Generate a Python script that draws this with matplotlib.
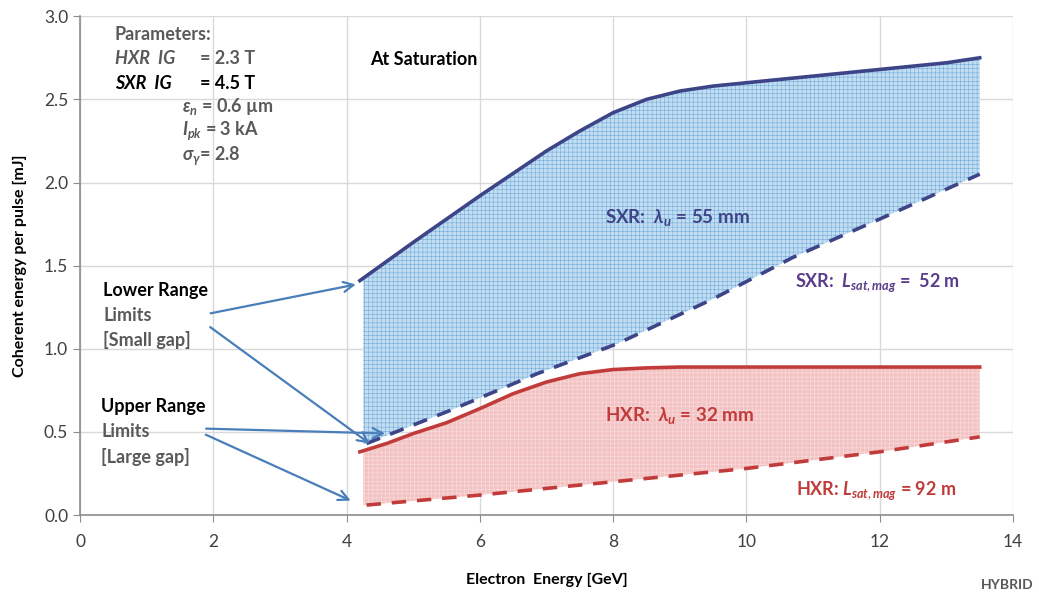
import numpy as np
import matplotlib
matplotlib.use("Agg")
import matplotlib.pyplot as plt

plt.rcParams['font.family'] = ['Lato', 'DejaVu Sans']
plt.rcParams['mathtext.fontset'] = 'custom'
plt.rcParams['mathtext.rm'] = 'Lato'
plt.rcParams['mathtext.it'] = 'Lato:italic:bold'
plt.rcParams['mathtext.bf'] = 'Lato:bold'
plt.rcParams['hatch.linewidth'] = 0.3

# SXR (lambda_u = 55 mm) saturation energy, upper and lower range limits
sxr_hi_x = [4.2, 5.0, 6.0, 7.0, 7.5, 8.0, 8.5, 9.0, 9.5, 10.0, 11.0, 12.0, 13.0, 13.5]
sxr_hi_y = [1.41, 1.64, 1.92, 2.19, 2.31, 2.42, 2.50, 2.55, 2.58, 2.60, 2.64, 2.68, 2.72, 2.75]
sxr_lo_x = [4.3, 5.56, 6.86, 8.06, 9.5, 10.7, 12.0, 13.5]
sxr_lo_y = [0.43, 0.63, 0.85, 1.03, 1.30, 1.55, 1.78, 2.05]

# HXR (lambda_u = 32 mm)
hxr_hi_x = [4.2, 4.6, 5.0, 5.5, 6.0, 6.5, 7.0, 7.5, 8.0, 8.5, 9.0, 10.0, 12.0, 13.5]
hxr_hi_y = [0.38, 0.43, 0.49, 0.555, 0.64, 0.73, 0.80, 0.85, 0.875, 0.885, 0.89, 0.89, 0.89, 0.89]
hxr_lo_x = [4.3, 6.0, 8.0, 10.0, 12.0, 13.5]
hxr_lo_y = [0.06, 0.12, 0.20, 0.28, 0.38, 0.47]

SXR_COL = '#3d4487'
HXR_COL = '#c23b3b'
ARROW_COL = '#4a7ebb'
GRAY = '#595959'

fig = plt.figure(figsize=(10.39, 6.02), dpi=100)
ax = fig.add_axes([0.077, 0.1445, 0.898, 0.8285])

# shaded bands (fill between upper and lower limits on a common grid)
xs = np.linspace(4.25, 13.5, 300)
s_top = np.interp(xs, sxr_hi_x, sxr_hi_y)
s_bot = np.interp(xs, sxr_lo_x, sxr_lo_y)
h_top = np.interp(xs, hxr_hi_x, hxr_hi_y)
h_bot = np.interp(xs, hxr_lo_x, hxr_lo_y)

ax.fill_between(xs, s_bot, s_top, facecolor='#c2ddf2', linewidth=0, zorder=1)
ax.fill_between(xs, s_bot, s_top, facecolor='none', edgecolor='#5b9fd3',
                hatch='++++', linewidth=0, zorder=1.1)
ax.fill_between(xs, h_bot, h_top, facecolor='#f3c2c2', linewidth=0, zorder=1.2)
ax.fill_between(xs, h_bot, h_top, facecolor='none', edgecolor='#fbe8e8',
                hatch='++++', linewidth=0, zorder=1.3)

ax.plot(sxr_hi_x, sxr_hi_y, color=SXR_COL, lw=2.6, zorder=3)
ax.plot(sxr_lo_x, sxr_lo_y, color=SXR_COL, lw=2.6, ls=(0, (4, 3)), zorder=3)
ax.plot(hxr_hi_x, hxr_hi_y, color=HXR_COL, lw=2.6, zorder=3)
ax.plot(hxr_lo_x, hxr_lo_y, color=HXR_COL, lw=2.6, ls=(0, (4, 3)), zorder=3)

ax.set_xlim(0, 14)
ax.set_ylim(0, 3.0)
ax.set_xticks(range(0, 15, 2))
ax.set_yticks(np.arange(0, 3.01, 0.5))
ax.set_yticklabels(['%.1f' % v for v in np.arange(0, 3.01, 0.5)])
ax.grid(color='#d9d9d9', lw=1.0, zorder=0)
ax.set_axisbelow(True)
for s in ['top', 'right']:
    ax.spines[s].set_visible(False)
for s in ['left', 'bottom']:
    ax.spines[s].set_color('#8c8c8c')
    ax.spines[s].set_linewidth(1.2)
ax.tick_params(colors='#8c8c8c', labelcolor='#404040', labelsize=12.5, length=5)
ax.tick_params(axis='x', pad=9)

ax.set_xlabel('Electron  Energy [GeV]', fontsize=11.5, fontweight='bold', labelpad=16)
ax.set_ylabel('Coherent energy per pulse [mJ]', fontsize=11.5, fontweight='bold', labelpad=12)

# parameters box
fs = 13
ax.text(0.52, 2.89, 'Parameters:', color=GRAY, fontsize=fs, fontweight='bold', va='center')
ax.text(0.52, 2.745, 'HXR  IG', color=GRAY, fontsize=fs, fontweight='bold', style='italic', va='center')
ax.text(1.80, 2.745, '= 2.3 T', color=GRAY, fontsize=fs, fontweight='bold', va='center')
ax.text(0.52, 2.595, 'SXR  IG', color='black', fontsize=fs, fontweight='bold', style='italic', va='center')
ax.text(1.80, 2.595, '= 4.5 T', color='black', fontsize=fs, fontweight='bold', va='center')
ax.text(1.53, 2.455, r'$\varepsilon_n$ = 0.6 µm', color=GRAY, fontsize=fs, fontweight='bold', va='center')
ax.text(1.53, 2.31, r'$I_{pk}$ = 3 kA', color=GRAY, fontsize=fs, fontweight='bold', va='center')
ax.text(1.53, 2.16, r'$\sigma_\gamma$= 2.8', color=GRAY, fontsize=fs, fontweight='bold', va='center')

ax.text(4.35, 2.74, 'At Saturation', color='black', fontsize=fs, fontweight='bold', va='center')

ax.text(8.96, 1.79, r'SXR:  $\lambda_u$ = 55 mm', color=SXR_COL, fontsize=13.5,
        fontweight='bold', ha='center', va='center')
ax.text(11.97, 1.40, r'SXR:  $L_{sat,mag}$ =  52 m', color='#5a3c8a', fontsize=13,
        fontweight='bold', ha='center', va='center')
ax.text(9.0, 0.60, r'HXR:  $\lambda_u$ = 32 mm', color=HXR_COL, fontsize=13.5,
        fontweight='bold', ha='center', va='center')
ax.text(11.94, 0.15, r'HXR: $L_{sat,mag}$ = 92 m', color=HXR_COL, fontsize=13,
        fontweight='bold', ha='center', va='center')

# range labels with arrows
ax.text(0.35, 1.35, 'Lower Range', color='black', fontsize=fs, fontweight='bold', va='center')
ax.text(0.35, 1.20, 'Limits', color=GRAY, fontsize=fs, fontweight='bold', va='center')
ax.text(0.35, 1.05, '[Small gap]', color=GRAY, fontsize=fs, fontweight='bold', va='center')
ax.text(0.32, 0.65, 'Upper Range', color='black', fontsize=fs, fontweight='bold', va='center')
ax.text(0.32, 0.50, 'Limits', color=GRAY, fontsize=fs, fontweight='bold', va='center')
ax.text(0.32, 0.35, '[Large gap]', color=GRAY, fontsize=fs, fontweight='bold', va='center')

arrows = [((1.92, 1.21), (4.18, 1.39)),
          ((1.92, 1.14), (4.38, 0.42)),
          ((1.85, 0.52), (4.62, 0.49)),
          ((1.85, 0.49), (4.10, 0.08))]
for start, end in arrows:
    ax.annotate('', xy=end, xytext=start,
                arrowprops=dict(arrowstyle='->', color=ARROW_COL, lw=1.6,
                                mutation_scale=18), zorder=4)

fig.text(0.995, 0.022, 'HYBRID', color=GRAY, fontsize=10, fontweight='bold', ha='right')

fig.savefig('out.png', dpi=100)
